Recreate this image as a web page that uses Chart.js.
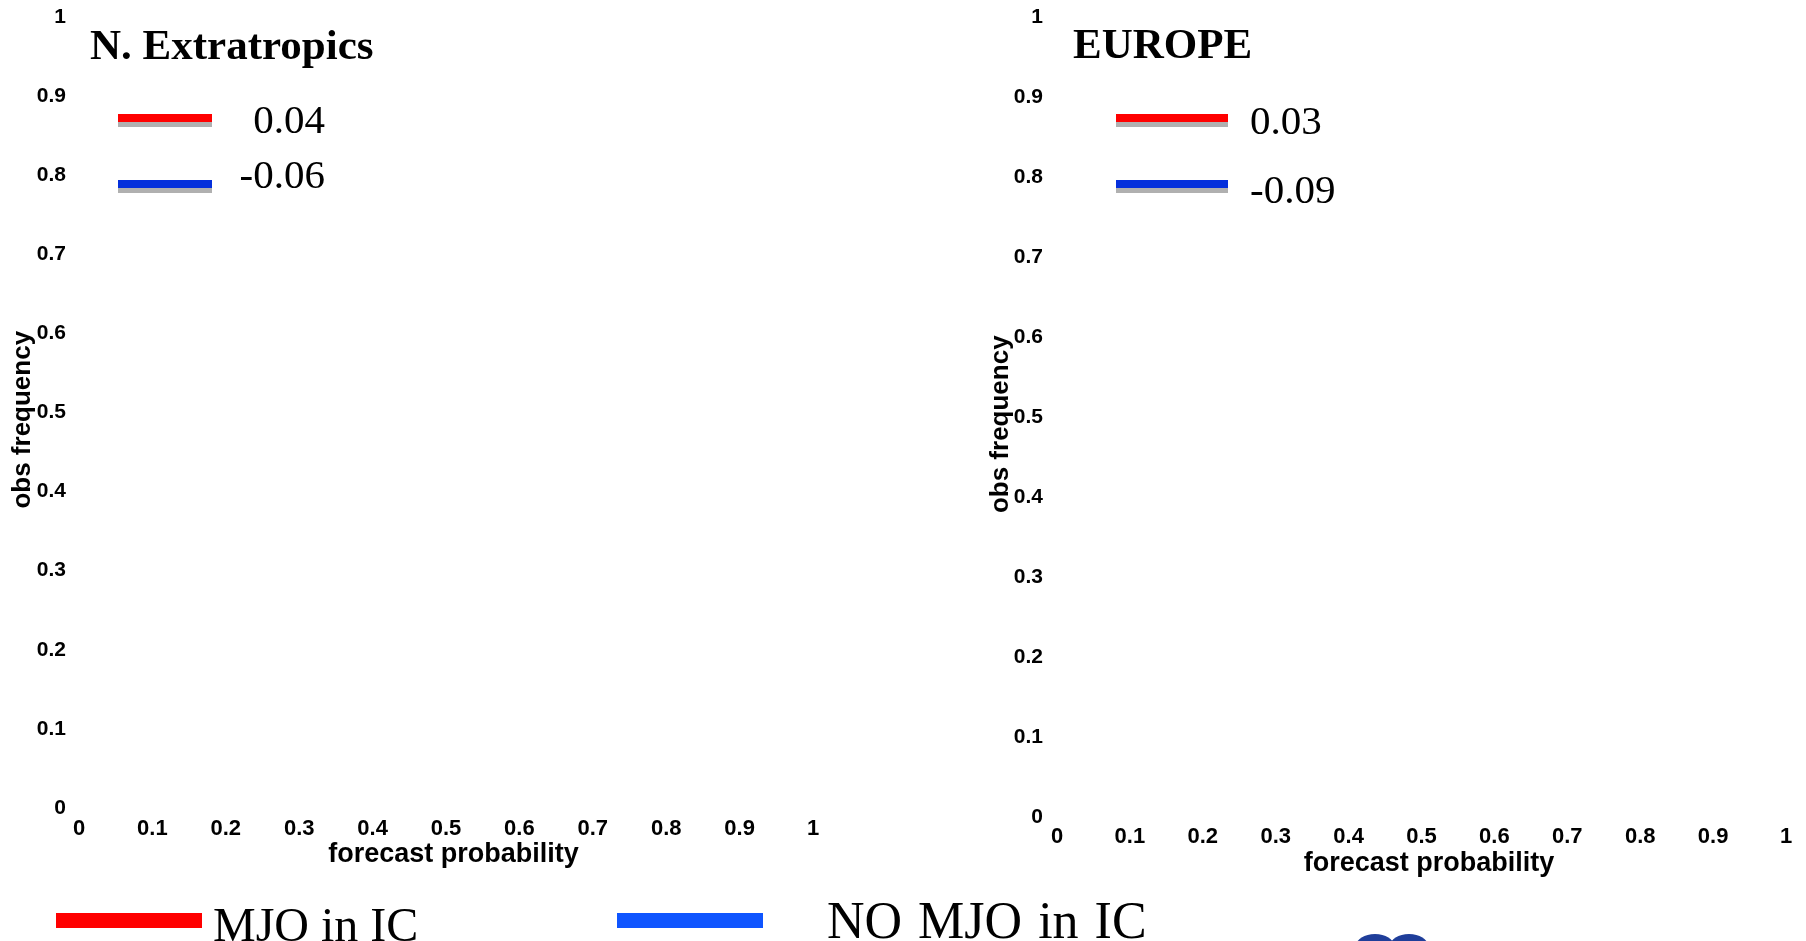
<!DOCTYPE html>
<html>
<head>
<meta charset="utf-8">
<script src="https://cdn.jsdelivr.net/npm/chart.js@4.4.1/dist/chart.umd.min.js"></script>
<style>
  html, body { margin:0; padding:0; background:#fff; width:1806px; height:941px; overflow:hidden; }
  body { position:relative; }
  canvas { position:absolute; top:0; }
  .lg { position:absolute; font-family:"Liberation Serif", "Times New Roman", serif; font-size:50px; line-height:50px; color:#000; white-space:pre; }
  .bar { position:absolute; height:15px; }
  .logo { position:absolute; background:#1f3e9a; border-radius:50%; }
</style>
</head>
<body>
<canvas id="c1" width="850" height="900" style="left:0px"></canvas>
<canvas id="c2" width="846" height="900" style="left:960px"></canvas>
<div id="legend"></div>
<div class="logo" style="left:1356px;top:934px;width:38px;height:24px"></div>
<div class="logo" style="left:1390px;top:934px;width:38px;height:24px"></div>
<script>
// ---------------- data ----------------
const probTicks   = [0, 0.1, 0.2, 0.3, 0.4, 0.5, 0.6, 0.7, 0.8, 0.9, 1];
const regions     = ['N. Extratropics', 'EUROPE'];
const seriesNames = ['MJO in IC', 'NO MJO in IC'];
const scoreMJO    = [0.04, 0.03];     // legend values, red line
const scoreNoMJO  = [-0.06, -0.09];   // legend values, blue line
// reliability curves: none are drawn in the reference picture
const relMJO_NH   = [];
const relNoMJO_NH = [];
const relMJO_EU   = [];
const relNoMJO_EU = [];

// ---------------- styles ----------------
const RED = '#ff0000';
const BLUE_PANEL = '#0530dc';
const BLUE_LEGEND = '#0f55ff';
const SHADOW = '#b0b0b0';

function fmt(v) { return String(+(+v).toFixed(1)); }

const panelDecor = {
  id: 'panelDecor',
  afterDraw(chart, args, o) {
    const ctx = chart.ctx;
    ctx.save();
    ctx.fillStyle = '#000';
    ctx.textBaseline = 'alphabetic';
    ctx.textAlign = 'left';
    ctx.font = 'bold 43px "Liberation Serif"';
    ctx.fillText(o.title, o.titleX, o.titleY);
    chart.data.datasets.forEach((ds, i) => {
      const r = o.rows[i];
      ctx.fillStyle = ds.borderColor;
      ctx.fillRect(o.lineX, r.y, o.lineW, 8);
      ctx.fillStyle = SHADOW;
      ctx.fillRect(o.lineX, r.y + 8, o.lineW, 5);
      ctx.fillStyle = '#000';
      ctx.font = '41px "Liberation Serif"';
      ctx.textAlign = o.textAlign;
      ctx.fillText(ds.score.toFixed(2), o.textX, r.baseline);
    });
    ctx.restore();
  }
};

function makeChart(id, c) {
  return new Chart(document.getElementById(id), {
    type: 'scatter',
    data: {
      datasets: [
        { label: seriesNames[0], data: c.mjo, score: c.sMJO, borderColor: RED, backgroundColor: RED, showLine: true, borderWidth: 4, pointRadius: 0 },
        { label: seriesNames[1], data: c.nomjo, score: c.sNo, borderColor: BLUE_PANEL, backgroundColor: BLUE_PANEL, showLine: true, borderWidth: 4, pointRadius: 0 }
      ]
    },
    options: {
      responsive: false,
      animation: false,
      events: [],
      layout: { padding: c.pad },
      plugins: {
        legend: { display: false },
        tooltip: { enabled: false },
        panelDecor: c.decor
      },
      scales: {
        x: {
          type: 'linear', min: 0, max: 1,
          grid: { display: false, drawTicks: false },
          border: { display: false },
          afterBuildTicks: s => { s.ticks = probTicks.map(v => ({ value: v })); },
          afterFit: s => { s.height = c.xH; },
          ticks: {
            autoSkip: false, maxRotation: 0, padding: c.xTickPad, color: '#000',
            font: { family: '"Liberation Sans", Arial, sans-serif', weight: 'bold', size: 22 },
            callback: v => fmt(v)
          },
          title: {
            display: true, text: '  forecast probability', color: '#000',
            font: { family: '"Liberation Sans", Arial, sans-serif', weight: 'bold', size: 27 },
            padding: { top: 0, bottom: c.xTitlePad }
          }
        },
        y: {
          type: 'linear', min: 0, max: 1,
          grid: { display: false, drawTicks: false },
          border: { display: false },
          afterBuildTicks: s => { s.ticks = probTicks.map(v => ({ value: v })); },
          afterFit: s => { s.width = c.yW; s.paddingTop = 0; s.paddingBottom = 0; },
          ticks: {
            autoSkip: false, padding: c.yTickPad, color: '#000',
            font: { family: '"Liberation Sans", Arial, sans-serif', weight: 'bold', size: 21 },
            callback: v => fmt(v)
          },
          title: {
            display: true, text: 'obs frequency  ', color: '#000',
            font: { family: '"Liberation Sans", Arial, sans-serif', weight: 'bold', size: 26 },
            padding: { top: c.yTitlePad, bottom: 0 }
          }
        }
      }
    },
    plugins: [panelDecor]
  });
}

// left panel: N. Extratropics
makeChart('c1', {
  mjo: relMJO_NH, nomjo: relNoMJO_NH, sMJO: scoreMJO[0], sNo: scoreNoMJO[0],
  pad: { left: 4, right: 37, top: 17, bottom: 0 },
  yW: 75, xH: 92, yTickPad: 13, yTitlePad: 3, xTitlePad: 29, xTickPad: 8,
  decor: {
    title: regions[0], titleX: 90, titleY: 59,
    lineX: 118, lineW: 94, textAlign: 'right', textX: 325,
    rows: [ { y: 114, baseline: 133 }, { y: 180, baseline: 188 } ]
  }
});

// right panel: EUROPE
makeChart('c2', {
  mjo: relMJO_EU, nomjo: relNoMJO_EU, sMJO: scoreMJO[1], sNo: scoreNoMJO[1],
  pad: { left: 4, right: 20, top: 17, bottom: 0 },
  yW: 93, xH: 83, yTickPad: 14, yTitlePad: 21, xTitlePad: 20, xTickPad: 7,
  decor: {
    title: regions[1], titleX: 1073 - 960, titleY: 58,
    lineX: 1116 - 960, lineW: 112, textAlign: 'left', textX: 1250 - 960,
    rows: [ { y: 114, baseline: 134 }, { y: 180, baseline: 203 } ]
  }
});

// bottom legend
const legendItems = [
  { name: seriesNames[0], color: RED,         barX: 56,  textX: 213, size: 48, ws: 0 },
  { name: seriesNames[1], color: BLUE_LEGEND, barX: 617, textX: 827, size: 52, ws: 3 }
];
const lg = document.getElementById('legend');
legendItems.forEach(it => {
  const b = document.createElement('div');
  b.className = 'bar';
  b.style.left = it.barX + 'px'; b.style.top = '913px'; b.style.width = '146px';
  b.style.background = it.color;
  lg.appendChild(b);
  const t = document.createElement('div');
  t.className = 'lg';
  t.style.left = it.textX + 'px'; t.style.top = (898 + (50 - it.size) * 0.85) + 'px';
  t.style.fontSize = it.size + 'px';
  t.style.wordSpacing = it.ws + 'px';
  t.textContent = it.name;
  lg.appendChild(t);
});
</script>
</body>
</html>
